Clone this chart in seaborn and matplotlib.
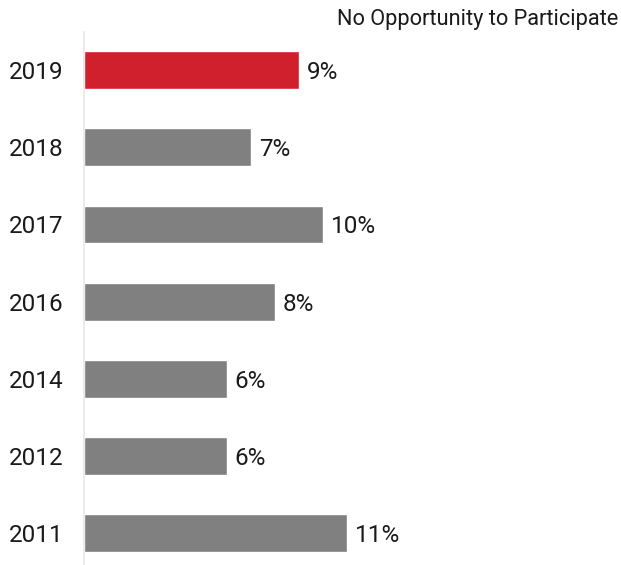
import matplotlib
matplotlib.use("Agg")
import matplotlib.pyplot as plt
import seaborn as sns
import pandas as pd

# ── DATA ──────────────────────────────────────────────────────────────────────
years = ["2019", "2018", "2017", "2016", "2014", "2012", "2011"]
values = [9, 7, 10, 8, 6, 6, 11]
labels = ["9%", "7%", "10%", "8%", "6%", "6%", "11%"]
colors = ["#D0202E", "#808080", "#808080", "#808080", "#808080", "#808080", "#808080"]
title = "No Opportunity to Participate"

df = pd.DataFrame({"Year": years, "Value": values})

# ── STYLE ─────────────────────────────────────────────────────────────────────
sns.set_style("white")
plt.rcParams["font.family"] = ["Roboto", "DejaVu Sans"]

fig = plt.figure(figsize=(6.21, 5.65), dpi=100)
ax = fig.add_axes([0.1345, 0.0, 0.8655, 0.943])

sns.barplot(data=df, x="Value", y="Year", hue="Year", palette=colors,
            legend=False, width=0.49, ax=ax, saturation=1)

ax.set_xlim(0, 22.4)
ax.set_ylim(6.41, -0.49)

# value labels just right of each bar
for i, (val, lab) in enumerate(zip(values, labels)):
    ax.text(val + 0.3, i + 0.03, lab, va="center", ha="left", fontsize=17.5, color="#1a1a1a")

ax.set_xlabel("")
ax.set_ylabel("")
ax.set_xticks([])
ax.tick_params(axis="y", length=0, pad=14.4, labelsize=17.5, labelcolor="#1a1a1a")

for s in ["top", "right", "bottom"]:
    ax.spines[s].set_visible(False)
ax.spines["left"].set_color("#e8e8e8")
ax.spines["left"].set_linewidth(1.2)

fig.text(0.995, 0.966, title, ha="right", va="center", fontsize=15.7, color="#1a1a1a")

fig.savefig("out.png", dpi=100)
plt.close()
